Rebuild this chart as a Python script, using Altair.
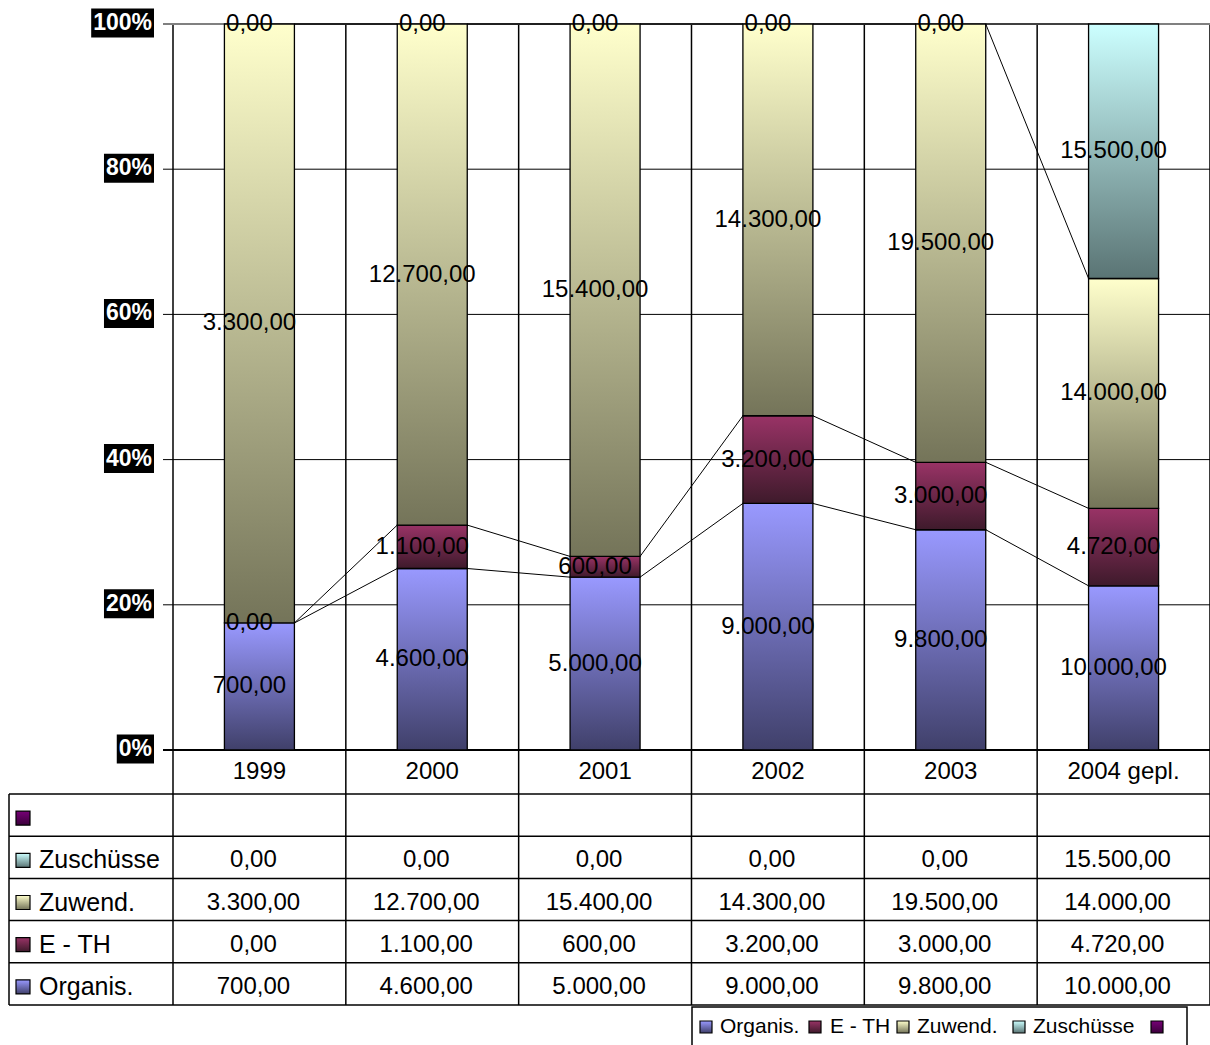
import altair as alt
import pandas as pd

# ---------------- data ----------------
years = ["1999", "2000", "2001", "2002", "2003", "2004 gepl."]
organis = [700, 4600, 5000, 9000, 9800, 10000]
e_th = [0, 1100, 600, 3200, 3000, 4720]
zuwend = [3300, 12700, 15400, 14300, 19500, 14000]
zuschuesse = [0, 0, 0, 0, 0, 15500]
series_names = ["Organis.", "E - TH", "Zuwend.", "Zuschüsse", ""]
series_values = [organis, e_th, zuwend, zuschuesse, None]
pct_ticks = [0, 20, 40, 60, 80, 100]

# ---------------- styles / layout ----------------
grad_colors = [("#9999FF", "#40406A"), ("#993366", "#3E1A2B"),
               ("#FFFFCC", "#747459"), ("#CCFFFF", "#5A7474"),
               ("#770077", "#3A003A")]
FONT = "Liberation Sans"
W, H = 1210, 1045
PX0, COLW = 173.0, 172.83      # x pixel of category 0 left edge, column width
Y0, PPU = 750.0, 7.26          # y pixel of 0 %, pixels per percent
BAR_W = 70
TABLE_TOP, ROW_H, N_ROWS = 794.0, 42.2, 5
HEADER_MID = 772.0
TABLE_LEFT = 9.0


def ux(px):
    return (px - PX0) / COLW


def vy(py):
    return (Y0 - py) / PPU


xs = alt.Scale(domain=[ux(0), ux(W)], nice=False, zero=False)
ys = alt.Scale(domain=[vy(H), vy(0)], nice=False, zero=False)


def ex(f):
    return alt.X(f"{f}:Q", scale=xs, axis=None)


def ey(f):
    return alt.Y(f"{f}:Q", scale=ys, axis=None)


def grad(c1, c2):
    return {"gradient": "linear", "x1": 0, "y1": 0, "x2": 0, "y2": 1,
            "stops": [{"offset": 0, "color": c1}, {"offset": 1, "color": c2}]}


def fmt(v):
    s = f"{v:,.2f}"
    return s.replace(",", "X").replace(".", ",").replace("X", ".")


def rules(df, color, width):
    return alt.Chart(df).mark_rule(color=color, strokeWidth=width).encode(
        x=ex("x"), x2=alt.X2("x2:Q"), y=ey("y"), y2=alt.Y2("y2:Q"))


layers = []
n = len(years)

# ---------------- grid ----------------
tick_left = ux(163)
grid_mid = pd.DataFrame([{"x": tick_left, "x2": n, "y": t, "y2": t} for t in pct_ticks if 0 < t < 100])
grid_top = pd.DataFrame([{"x": tick_left, "x2": n, "y": 100, "y2": 100}])
grid_bot = pd.DataFrame([{"x": tick_left, "x2": n, "y": 0, "y2": 0}])
table_bottom = TABLE_TOP + ROW_H * N_ROWS
verticals = pd.DataFrame([{"x": k, "x2": k, "y": 100, "y2": vy(table_bottom)} for k in range(n + 1)])
hlines = pd.DataFrame([{"x": ux(TABLE_LEFT), "x2": n, "y": vy(TABLE_TOP + ROW_H * r), "y2": vy(TABLE_TOP + ROW_H * r)}
                       for r in range(N_ROWS + 1)])
leftline = pd.DataFrame([{"x": ux(TABLE_LEFT), "x2": ux(TABLE_LEFT), "y": vy(TABLE_TOP), "y2": vy(table_bottom)}])

layers += [rules(grid_mid, "black", 1), rules(verticals, "black", 1.5),
           rules(hlines, "black", 1.5), rules(leftline, "black", 1.5),
           rules(grid_top, "#808080", 2), rules(grid_bot, "black", 2)]

# ---------------- stacked 100 % bars ----------------
half = BAR_W / 2 / COLW
tops = [[0] * n for _ in range(4)]
seg_rows = []
for i in range(n):
    total = sum(series_values[s][i] for s in range(4))
    cum = 0
    for s in range(4):
        v = series_values[s][i]
        y0 = cum / total * 100
        cum += v
        y1 = cum / total * 100
        tops[s][i] = y1
        seg_rows.append({"s": s, "x": i + 0.5 - half, "x2": i + 0.5 + half, "xc": i + 0.5,
                         "y": y0, "y2": y1, "ym": (y0 + y1) / 2, "label": fmt(v), "v": v})
segs = pd.DataFrame(seg_rows)

for s in range(4):
    d = segs[(segs.s == s) & (segs.v > 0)]
    layers.append(alt.Chart(d).mark_rect(fill=grad(*grad_colors[s]), stroke="black", strokeWidth=1.3).encode(
        x=ex("x"), x2=alt.X2("x2:Q"), y=ey("y"), y2=alt.Y2("y2:Q")))

# series lines
sl = pd.DataFrame([{"x": i + 0.5 + half, "x2": i + 1.5 - half, "y": tops[s][i], "y2": tops[s][i + 1]}
                   for s in range(4) for i in range(n - 1)])
layers.append(rules(sl, "black", 1))

# data labels
layers.append(alt.Chart(segs).mark_text(font=FONT, fontSize=24, color="black", dx=-10, baseline="middle").encode(
    x=ex("xc"), y=ey("ym"), text="label:N"))

# ---------------- data table ----------------
hdr = pd.DataFrame({"x": [i + 0.5 for i in range(n)], "y": [vy(HEADER_MID)] * n, "t": years})
layers.append(alt.Chart(hdr).mark_text(font=FONT, fontSize=24, color="black", baseline="middle").encode(
    x=ex("x"), y=ey("y"), text="t:N"))

cell_rows, lab_rows = [], []
for r in range(N_ROWS):
    s = 4 - r
    cy = TABLE_TOP + ROW_H * (r + 0.5)
    lab_rows.append({"s": s, "x": ux(39), "y": vy(cy + 3), "t": series_names[s],
                     "sx": ux(16), "sx2": ux(30), "sy": vy(cy + 3 - 7), "sy2": vy(cy + 3 + 7)})
    if series_values[s] is not None:
        for i in range(n):
            cell_rows.append({"x": i + 0.5, "y": vy(cy + 3), "t": fmt(series_values[s][i])})
cells = pd.DataFrame(cell_rows)
labs = pd.DataFrame(lab_rows)
layers.append(alt.Chart(cells).mark_text(font=FONT, fontSize=24, color="black", dx=-6, baseline="middle").encode(
    x=ex("x"), y=ey("y"), text="t:N"))
layers.append(alt.Chart(labs).mark_text(font=FONT, fontSize=25, color="black", align="left", baseline="middle").encode(
    x=ex("x"), y=ey("y"), text="t:N"))
for s in range(5):
    layers.append(alt.Chart(labs[labs.s == s]).mark_rect(fill=grad(*grad_colors[s]), stroke="black", strokeWidth=1.2).encode(
        x=ex("sx"), x2=alt.X2("sx2:Q"), y=ey("sy"), y2=alt.Y2("sy2:Q")))

# ---------------- legend ----------------
leg_sw_px = [700, 809, 897, 1013, 1151]
leg_tx_px = [720, 830, 917, 1033, 1171]
LEG_MID = 1027
legbox = pd.DataFrame([{"x": ux(692), "x2": ux(1187), "y": vy(1007), "y2": vy(1060)}])
layers.append(alt.Chart(legbox).mark_rect(fill="white", stroke="black", strokeWidth=1.5).encode(
    x=ex("x"), x2=alt.X2("x2:Q"), y=ey("y"), y2=alt.Y2("y2:Q")))
leg = pd.DataFrame([{"s": s, "x": ux(leg_sw_px[s]), "x2": ux(leg_sw_px[s] + 12),
                     "y": vy(LEG_MID - 6), "y2": vy(LEG_MID + 6),
                     "tx": ux(leg_tx_px[s]), "ty": vy(LEG_MID), "t": series_names[s]} for s in range(5)])
for s in range(5):
    layers.append(alt.Chart(leg[leg.s == s]).mark_rect(fill=grad(*grad_colors[s]), stroke="black", strokeWidth=1.2).encode(
        x=ex("x"), x2=alt.X2("x2:Q"), y=ey("y"), y2=alt.Y2("y2:Q")))
layers.append(alt.Chart(leg).mark_text(font=FONT, fontSize=21, color="black", align="left", baseline="middle").encode(
    x=ex("tx"), y=ey("ty"), text="t:N"))

# ---------------- y axis labels (white on black) ----------------
AX_FS = 23


def bold_width(txt, size=AX_FS):
    return sum(0.889 if c == "%" else 0.556 for c in txt) * size


ax_rows = []
for t in pct_ticks:
    lab = f"{t}%"
    tw = bold_width(lab)
    ax_rows.append({"t": lab, "y": t + 1 / PPU, "x": ux(152), "bx": ux(152 - tw - 2), "bx2": ux(154),
                    "by": t + 1 / PPU + 14.5 / PPU, "by2": t + 1 / PPU - 14.5 / PPU})
ax = pd.DataFrame(ax_rows)
layers.append(alt.Chart(ax).mark_rect(fill="black").encode(
    x=ex("bx"), x2=alt.X2("bx2:Q"), y=ey("by"), y2=alt.Y2("by2:Q")))
layers.append(alt.Chart(ax).mark_text(font=FONT, fontSize=AX_FS, fontWeight="bold", color="white",
                                      align="right", baseline="middle").encode(
    x=ex("x"), y=ey("y"), text="t:N"))

chart = alt.layer(*layers).properties(width=W, height=H, autosize="none", padding=0,
                                      background="white").configure_view(strokeWidth=0)
chart.save("out.html", embed_options={"renderer": "svg", "actions": False})
